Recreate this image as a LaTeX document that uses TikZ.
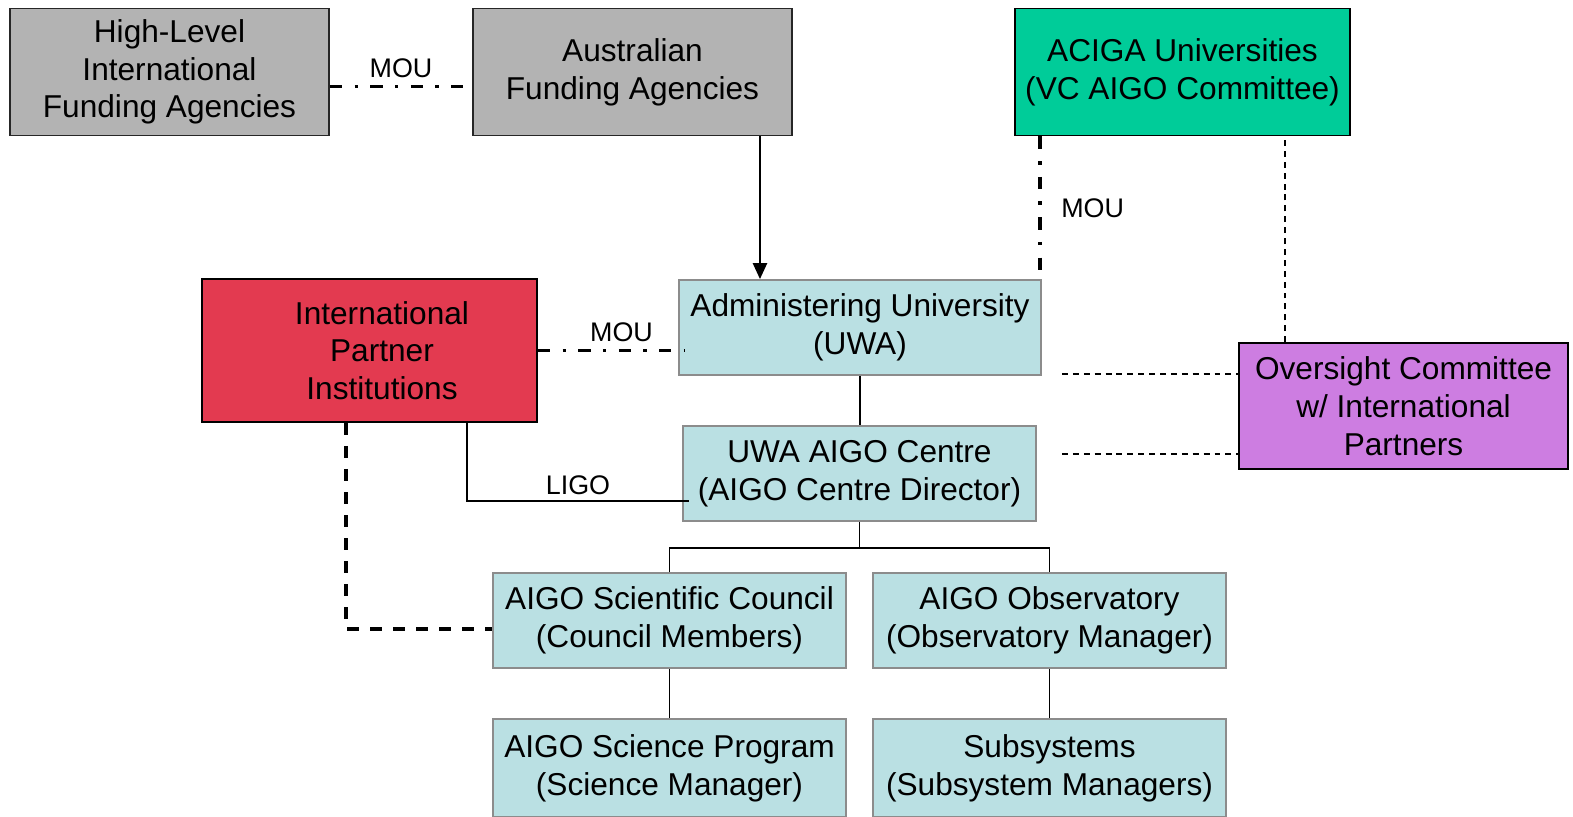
\documentclass[tikz,border=0pt]{standalone}
\usepackage{fontspec}
\setmainfont{Liberation Sans}
\usetikzlibrary{arrows.meta}
\usepackage{xcolor}

\definecolor{boxgray}{RGB}{179,179,179}
\definecolor{boxteal}{RGB}{0,204,153}
\definecolor{boxred}{RGB}{227,58,80}
\definecolor{boxblue}{RGB}{186,224,227}
\definecolor{boxpurple}{RGB}{205,125,225}
\definecolor{edgegray}{RGB}{140,140,140}

\tikzset{
  orgbox/.style={draw, line width=1.1pt, align=center, inner sep=2pt,
    font=\fontsize{18}{21.5}\selectfont},
  graybox/.style={orgbox, fill=boxgray, draw=black!85},
  bluebox/.style={orgbox, fill=boxblue, draw=edgegray},
  link/.style={line width=1.1pt},
  mouline/.style={line width=2pt, dash pattern=on 7pt off 7pt on 2pt off 7pt},
  thindash/.style={line width=0.9pt, dash pattern=on 3.4pt off 2.8pt},
  thickdash/.style={line width=2pt, dash pattern=on 6.8pt off 6.3pt},
  tag/.style={font=\fontsize{15.3}{18}\selectfont, inner sep=1pt}
}

\begin{document}
\begin{tikzpicture}[x=0.02cm, y=-0.02cm]
    \useasboundingbox (0,0) rectangle (1573,816);

    % Funding agencies and universities
    \node[graybox, minimum width=6.38cm, minimum height=2.54cm] (hlfa) at (169.5,72)
        {High-Level\\International\\Funding Agencies};
    \node[graybox, minimum width=6.38cm, minimum height=2.54cm] (afa) at (632.5,72)
        {Australian\\Funding Agencies};
    \node[orgbox, fill=boxteal, minimum width=6.70cm, minimum height=2.54cm] (aciga) at (1182.5,72)
        {ACIGA Universities\\(VC AIGO Committee)};

    % Partners and oversight
    \node[orgbox, fill=boxred, minimum width=6.70cm, minimum height=2.86cm] (ipi) at (369.5,350.5)
        {\hspace*{0.5cm}International\\\hspace*{0.5cm}Partner\\\hspace*{0.5cm}Institutions};
    \node[orgbox, fill=boxpurple, minimum width=6.58cm, minimum height=2.52cm] (oc) at (1403.5,406)
        {Oversight Committee\\w/ International\\Partners};

    % Administration
    \node[bluebox, minimum width=7.24cm, minimum height=1.90cm] (au) at (860,327.5)
        {Administering University\\(UWA)};
    \node[bluebox, minimum width=7.06cm, minimum height=1.90cm] (centre) at (859.5,473.5)
        {UWA AIGO Centre\\(AIGO Centre Director)};

    % Council and observatory
    \node[bluebox, minimum width=7.06cm, minimum height=1.90cm] (council) at (669.5,620.5)
        {AIGO Scientific Council\\(Council Members)};
    \node[bluebox, minimum width=7.06cm, minimum height=1.90cm] (obs) at (1049.5,620.5)
        {AIGO Observatory\\(Observatory Manager)};
    \node[bluebox, minimum width=7.06cm, minimum height=1.96cm] (science) at (669.5,768)
        {AIGO Science Program\\(Science Manager)};
    \node[bluebox, minimum width=7.06cm, minimum height=1.96cm] (subsys) at (1049.5,768)
        {Subsystems\\(Subsystem Managers)};

    % MOU links
    \draw[mouline] ([yshift=-0.29cm]hlfa.east) -- node[tag, above=3pt] {MOU} ([yshift=-0.29cm]afa.west);
    \draw[mouline] ([xshift=-1pt]aciga.south -| au.north east) -- node[tag, right=10pt] {MOU} ([xshift=-1pt]au.north east);
    \draw[mouline] (ipi.east) -- node[tag, above=3pt, xshift=0.2cm] {MOU} ([xshift=0.14cm]ipi.east -| au.west);

    % Funding arrow
    \draw[link, -{Triangle[length=9pt, width=8pt]}] ([xshift=2.55cm]afa.south) -- ([xshift=2.55cm]afa.south |- au.north);

    % Oversight links
    \coordinate (ovA) at (1062,374);
    \coordinate (ovB) at (1062,454);
    \draw[thindash] ([xshift=0.94cm]oc.north west) -- ([xshift=0.94cm]oc.north west |- aciga.south);
    \draw[thindash] (ovA) -- (ovA -| oc.west);
    \draw[thindash] (ovB) -- (ovB -| oc.west);

    % Reporting lines
    \draw[link] (au.south) -- (au.south |- centre.north);
    \draw[link] ([xshift=1.95cm]ipi.south) |- node[tag, pos=0.75, above=2pt] {LIGO} ([xshift=0.14cm, yshift=-0.55cm]centre.west);
    \draw[link] (centre.south) -- ++(0,26) coordinate (fork);
    \draw[link] (council.north) |- (fork) -| (obs.north);
    \draw[link] (council.south) -- (science.north);
    \draw[link] (obs.south) -- (subsys.north);
    \draw[thickdash] ([xshift=-0.47cm]ipi.south) |- ([yshift=-0.17cm]council.west);
\end{tikzpicture}
\end{document}
